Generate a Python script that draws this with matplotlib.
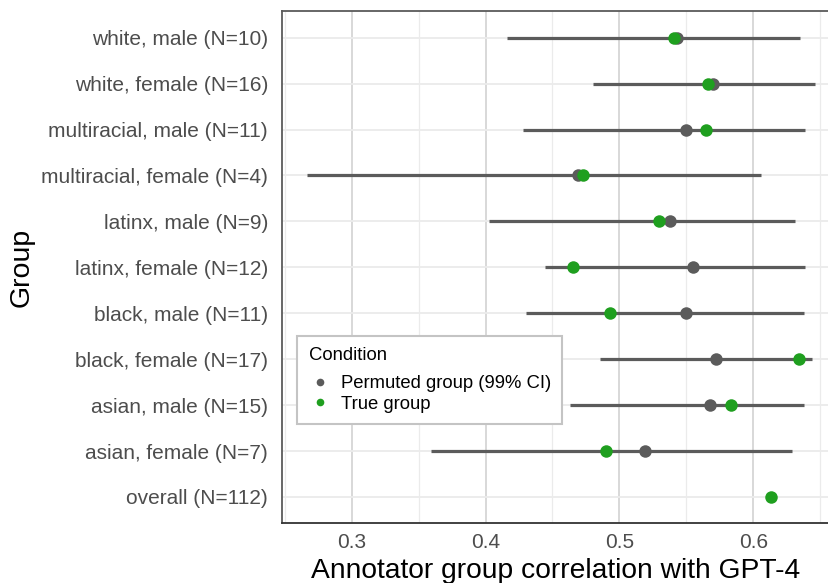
import numpy as np
from matplotlib import pyplot as plt
from matplotlib.lines import Line2D

plt.rcParams['font.family'] = ['Liberation Sans', 'DejaVu Sans']

groups = ["overall (N=112)", "asian, female (N=7)", "asian, male (N=15)",
          "black, female (N=17)", "black, male (N=11)", "latinx, female (N=12)",
          "latinx, male (N=9)", "multiracial, female (N=4)", "multiracial, male (N=11)",
          "white, female (N=16)", "white, male (N=10)"]
true_corr = [0.613, 0.4896, 0.5834, 0.6341, 0.4929, 0.4655, 0.5296, 0.4725, 0.5643, 0.5659, 0.5405]
perm_mean = [np.nan, 0.5188, 0.5675, 0.5722, 0.5497, 0.5552, 0.5374, 0.4694, 0.550, 0.570, 0.5427]
perm_lo = [np.nan, 0.3596, 0.4629, 0.4857, 0.430, 0.4446, 0.4025, 0.2666, 0.4281, 0.480, 0.4158]
perm_hi = [np.nan, 0.6286, 0.6378, 0.6441, 0.6376, 0.6386, 0.6308, 0.6054, 0.6386, 0.6459, 0.6347]

grey = "#5b5b5b"
green = "#1f9f1f"

fig = plt.figure(figsize=(8.29, 5.83), dpi=100)
ax = fig.add_axes([282 / 829, 59.7 / 583, 547 / 829, 512.6 / 583])

y = np.arange(len(groups))
ax.hlines(y, perm_lo, perm_hi, color=grey, linewidth=2.3, zorder=3)
ax.plot(perm_mean, y, "o", color=grey, markersize=9, markeredgewidth=0, zorder=4)
ax.plot(true_corr, y, "o", color=green, markersize=9, markeredgewidth=0, zorder=5)

ax.set_xlim(0.248, 0.6565)
ax.set_ylim(-0.573, 10.588)
ax.set_yticks(y)
ax.set_yticklabels(groups)
ax.set_xticks([0.3, 0.4, 0.5, 0.6])
ax.set_xticklabels(["0.3", "0.4", "0.5", "0.6"])
ax.set_xticks([0.25, 0.35, 0.45, 0.55, 0.65], minor=True)
ax.tick_params(axis="both", which="both", length=0, labelsize=15, labelcolor="#4d4d4d")
ax.tick_params(axis="y", pad=10)
ax.tick_params(axis="x", pad=7)

ax.grid(True, which="major", axis="x", color="#d6d6d6", linewidth=1.3, zorder=0)
ax.grid(True, which="minor", axis="x", color="#ebebeb", linewidth=0.9, zorder=0)
ax.grid(True, which="major", axis="y", color="#ebebeb", linewidth=1.3, zorder=0)
ax.set_axisbelow(True)

ax.spines["right"].set_visible(False)
ax.spines["top"].set_color("#5a5a5a")
ax.spines["left"].set_color("#5a5a5a")
ax.spines["bottom"].set_color("#333333")
for s in ["top", "left", "bottom"]:
    ax.spines[s].set_linewidth(1.3)

ax.set_xlabel("Annotator group correlation with GPT-4", fontsize=20.3, color="black", labelpad=4)
ax.set_ylabel("Group", fontsize=20.5, color="black")
ax.yaxis.set_label_coords(-0.452, 0.5)

handles = [Line2D([], [], marker="o", linestyle="none", color=grey, markersize=5.5, markeredgewidth=0),
           Line2D([], [], marker="o", linestyle="none", color=green, markersize=5.5, markeredgewidth=0)]
leg = ax.legend(handles, ["Permuted group (99% CI)", "True group"], title="Condition",
                loc="upper left", bbox_to_anchor=(297.5 / 829, (583 - 336) / 583),
                bbox_transform=fig.transFigure, borderaxespad=0, fontsize=13.3,
                title_fontsize=13.3, frameon=True, fancybox=False, alignment="left",
                handletextpad=0.55, labelspacing=0.2, borderpad=0.6, handlelength=1.2)
leg.get_frame().set_edgecolor("#c4c4c4")
leg.get_frame().set_linewidth(1.5)
leg.get_frame().set_alpha(1)
# extra room between the legend title and its entries, as in ggplot
leg._legend_box.sep = 8

fig.savefig("out.png", dpi=100)
